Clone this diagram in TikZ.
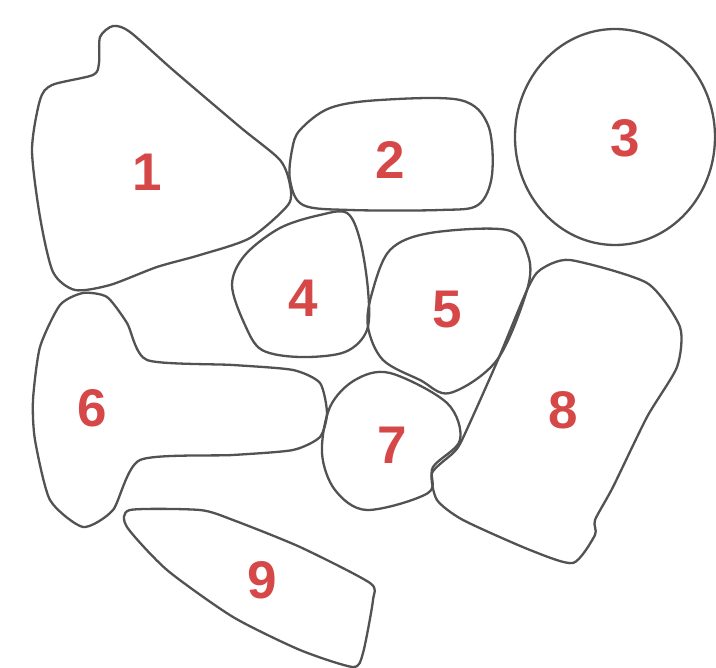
\documentclass[tikz,border=0pt]{standalone}
\usepackage{fontspec}
\setmainfont{Liberation Sans}
\usepackage{tikz}
\definecolor{numred}{RGB}{214,72,72}
\definecolor{lineg}{RGB}{82,82,82}

\begin{document}
\begin{tikzpicture}[x=1pt, y=-1pt,
  outline/.style={draw=lineg, line width=2.3pt, line join=round},
  num/.style={text=numred, font=\fontsize{53}{53}\selectfont\bfseries, inner sep=0pt}]
  \useasboundingbox (0,0) rectangle (716,668);
  \fill[white] (0,0) rectangle (716,668);
  % outlines
  \draw[outline] plot[smooth cycle, tension=0.45] coordinates {(100,37) (113,26) (130,32) (173,70) (240,127) (280,160) (290,185) (288,205) (250,238) (200,255) (157,267) (110,285) (75,290) (53,272) (40,217) (32,150) (40,100) (52,85) (93,75) (99,63)};
  \draw[outline] plot[smooth cycle, tension=0.55] coordinates {(300,130) (330,108) (380,100) (460,100) (488,125) (492,175) (478,205) (440,210) (350,210) (303,205) (290,180) (292,150)};
  \draw[outline] (615,137) ellipse[x radius=100, y radius=108];
  \draw[outline] plot[smooth cycle, tension=0.55] coordinates {(320,215) (347,213) (360,240) (368,290) (367,330) (345,352) (300,357) (262,350) (245,325) (232,285) (245,255) (280,228)};
  \draw[outline] plot[smooth cycle, tension=0.55] coordinates {(390,250) (430,233) (507,230) (528,255) (527,290) (497,360) (450,393) (420,380) (383,360) (368,327) (372,293)};
  \draw[outline] plot[smooth cycle, tension=0.4] coordinates {(83,293) (107,297) (127,323) (147,360) (233,365) (293,370) (320,383) (327,413) (320,437) (293,450) (233,455) (140,460) (113,510) (83,527) (50,500) (35,440) (33,400) (40,347) (60,305)};
  \draw[outline] plot[smooth cycle, tension=0.55] coordinates {(390,373) (447,403) (460,440) (433,467) (428,493) (367,510) (335,490) (322,453) (330,407) (355,380)};
  \draw[outline] plot[smooth cycle, tension=0.4] coordinates {(540,270) (570,260) (647,283) (680,327) (677,367) (647,417) (613,487) (595,520) (595,535) (573,563) (530,550) (463,520) (437,500) (432,473) (453,453) (462,440) (497,362) (527,290)};
  \draw[outline] plot[smooth cycle, tension=0.4] coordinates {(130,510) (200,510) (233,520) (300,547) (370,583) (373,600) (363,653) (353,667) (300,650) (233,617) (167,570) (127,527)};
  % numbers
  \node[num] (n1) at (147,172) {1};
  \node[num] (n2) at (390,160) {2};
  \node[num] (n3) at (625,138) {3};
  \node[num] (n4) at (303,298) {4};
  \node[num] (n5) at (447,310) {5};
  \node[num] (n6) at (92,408) {6};
  \node[num] (n7) at (392,445) {7};
  \node[num] (n8) at (563,410) {8};
  \node[num] (n9) at (262,580) {9};
\end{tikzpicture}
\end{document}
